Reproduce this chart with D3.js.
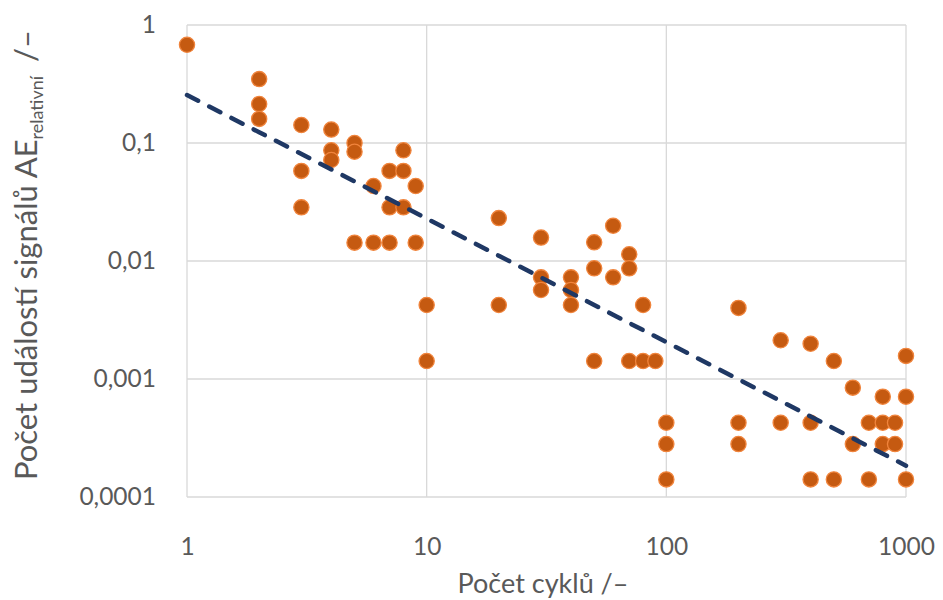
<!DOCTYPE html>
<html><head><meta charset="utf-8">
<script src="https://cdn.jsdelivr.net/npm/d3@7"></script>
<style>html,body{margin:0;padding:0;background:#fff;}svg{display:block;font-family:Lato,"Open Sans",sans-serif;}</style>
</head><body><svg id="c" width="943" height="600"></svg>
<script>
const cycles = [1,
 2,2,2, 3,3,3, 4,4,4, 5,5,5, 6,6, 7,7,7, 8,8,8, 9,9,
 10,10, 20,20, 30,30,30, 40,40,40, 50,50,50, 60,60, 70,70,70, 80,80, 90,
 100,100,100, 200,200,200, 300,300, 400,400,400, 500,500, 600,600, 700,700,
 800,800,800, 900,900, 1000,1000,1000];
const events = [0.68,
 0.348,0.214,0.16, 0.142,0.058,0.0285, 0.130,0.0867,0.0718, 0.100,0.0844,0.0143,
 0.0432,0.0143, 0.058,0.0285,0.0143, 0.0867,0.058,0.0285, 0.0432,0.0143,
 0.00424,0.00142, 0.0231,0.00424, 0.0158,0.00727,0.00568, 0.00727,0.00568,0.00424,
 0.0144,0.00867,0.00142, 0.0199,0.00727, 0.0114,0.00867,0.00142, 0.00424,0.00142, 0.00142,
 0.000426,0.000281,0.000141, 0.0040,0.000426,0.000281, 0.00213,0.000426,
 0.00199,0.000426,0.000141, 0.00142,0.000141, 0.000845,0.000281, 0.000426,0.000141,
 0.000708,0.000426,0.000281, 0.000426,0.000281, 0.00157,0.000708,0.000141];
const xTicks = [1,10,100,1000];
const xTickLabels = ["1","10","100","1000"];
const yTicks = [0.0001,0.001,0.01,0.1,1];
const yTickLabels = ["0,0001","0,001","0,01","0,1","1"];
const trendCoef = 0.255, trendExp = -1.047;
const trendX = [1,2,5,10,20,50,100,200,500,1000];

const svg = d3.select("#c");
const x = d3.scaleLog().domain([1,1000]).range([187,906]);
const y = d3.scaleLog().domain([0.0001,1]).range([497,25]);

// gridlines
svg.append("g").selectAll("line").data(yTicks).join("line")
 .attr("x1",x(1)).attr("x2",x(1000)).attr("y1",d=>y(d)).attr("y2",d=>y(d))
 .attr("stroke","#d9d9d9").attr("stroke-width",1.3);
svg.append("g").selectAll("line").data(xTicks).join("line")
 .attr("y1",y(1)).attr("y2",y(0.0001)).attr("x1",d=>x(d)).attr("x2",d=>x(d))
 .attr("stroke","#d9d9d9").attr("stroke-width",1.3);

// axes labels via d3 axes
const xAxis = d3.axisBottom(x).tickValues(xTicks).tickSize(0).tickPadding(0)
 .tickFormat(d=>xTickLabels[xTicks.indexOf(d)]);
const gx = svg.append("g").attr("transform",`translate(0,${y(0.0001)+41})`).call(xAxis);
gx.select(".domain").remove();
gx.selectAll("text").attr("font-size",24.5).attr("fill","#595959").attr("font-family","Lato,sans-serif");

const yAxis = d3.axisLeft(y).tickValues(yTicks).tickSize(0).tickPadding(0)
 .tickFormat(d=>yTickLabels[yTicks.indexOf(d)]);
const gy = svg.append("g").attr("transform",`translate(156,0)`).call(yAxis);
gy.select(".domain").remove();
gy.selectAll("text").attr("font-size",24.5).attr("fill","#595959").attr("font-family","Lato,sans-serif");

// points
svg.append("g").selectAll("circle").data(cycles.map((c,i)=>[c,events[i]])).join("circle")
 .attr("cx",d=>x(d[0])).attr("cy",d=>y(d[1])).attr("r",7.6)
 .attr("fill","#c55a11").attr("stroke","#f0843c").attr("stroke-width",1.3);

// trendline
const line = d3.line().x(d=>x(d)).y(d=>y(trendCoef*Math.pow(d,trendExp)));
svg.append("path").datum(trendX).attr("d",line).attr("fill","none")
 .attr("stroke","#1f3864").attr("stroke-width",4.5).attr("stroke-dasharray","12.5,12.5")
 .attr("stroke-linecap","round");

// titles
svg.append("text").attr("x",543).attr("y",593).attr("text-anchor","middle")
 .attr("font-size",27).attr("fill","#595959").text("Počet cyklů /–");
const yt = svg.append("text").attr("transform","translate(37,255) rotate(-90)")
 .attr("text-anchor","middle").attr("font-size",31).attr("fill","#595959");
yt.append("tspan").text("Počet událostí signálů AE");
yt.append("tspan").attr("font-size",18).attr("dy",6).text("relativní");
yt.append("tspan").attr("dy",-6).attr("dx",14).text("/–");
</script></body></html>
